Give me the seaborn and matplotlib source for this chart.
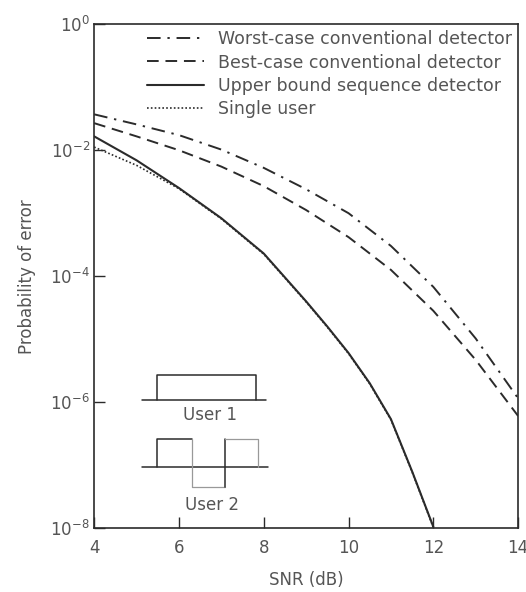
import numpy as np
import pandas as pd
import matplotlib
matplotlib.use("Agg")
import matplotlib.pyplot as plt
import seaborn as sns

# --------------------------------------------------------------
# Data (log10 of probability of error)
# --------------------------------------------------------------
snr_conv = [4, 5, 6, 7, 8, 9, 10, 11, 12, 13, 14]
worst_log = [-1.43, -1.59, -1.76, -1.99, -2.28, -2.62, -3.00, -3.52, -4.17, -4.99, -5.94]
best_log = [-1.57, -1.78, -2.00, -2.26, -2.57, -2.95, -3.38, -3.90, -4.55, -5.33, -6.22]

snr_seq = [4, 5, 6, 7, 8, 9, 9.5, 10, 10.5, 11, 11.5, 12]
upper_log = [-1.78, -2.16, -2.60, -3.08, -3.64, -4.40, -4.80, -5.22, -5.70, -6.27, -7.10, -7.98]
single_log = [-1.95, -2.24, -2.61, -3.09, -3.65, -4.41, -4.81, -5.23, -5.71, -6.28, -7.11, -7.99]

labels = ["Worst-case conventional detector",
          "Best-case conventional detector",
          "Upper bound sequence detector",
          "Single user"]

sns.set_theme(style="ticks")
plt.rcParams["font.family"] = ["DejaVu Sans"]

TXT = "#555555"
LN = "#2b2b2b"

fig = plt.figure(figsize=(5.26, 5.92), dpi=100)
ax = fig.add_axes([0.179, 0.108, 0.806, 0.851])

series = [
    (snr_conv, worst_log, labels[0], (0, (7, 3.5, 1.2, 3.5)), 1.4),
    (snr_conv, best_log, labels[1], (0, (6, 3.5)), 1.4),
    (snr_seq, upper_log, labels[2], "-", 1.5),
    (snr_seq, single_log, labels[3], (0, (1, 1.3)), 1.2),
]
for xs, ys, lab, ls, lw in series:
    d = pd.DataFrame({"snr": xs, "pe": 10.0 ** np.array(ys)})
    sns.lineplot(data=d, x="snr", y="pe", ax=ax, color=LN, linestyle=ls,
                 linewidth=lw, label=lab)

ax.set_yscale("log")
ax.set_xlim(4, 14)
ax.set_ylim(1e-8, 1)
ax.set_xticks([4, 6, 8, 10, 12, 14])
ax.set_yticks([1, 1e-2, 1e-4, 1e-6, 1e-8])
ax.minorticks_off()
ax.tick_params(direction="in", length=8, width=1, colors=LN, labelcolor=TXT,
               labelsize=12)
ax.tick_params(axis="x", pad=8)
ax.tick_params(axis="y", pad=3)
for s in ax.spines.values():
    s.set_color(LN)
    s.set_linewidth(1.2)

ax.set_xlabel("SNR (dB)", fontsize=12, color=TXT, labelpad=10)
ax.set_ylabel("Probability of error", fontsize=12, color=TXT, labelpad=10)

leg = ax.legend(loc="upper right", frameon=False, fontsize=12.5,
                handlelength=3.3, handletextpad=0.8, labelspacing=0.3,
                borderaxespad=0.15, borderpad=0.2)
for t in leg.get_texts():
    t.set_color(TXT)

# inset sketch of the user waveforms (axes fraction)
tr = ax.transAxes
ax.plot([0.113, 0.406], [0.254, 0.254], color=LN, lw=1.1, transform=tr)
ax.plot([0.149, 0.149, 0.382, 0.382], [0.254, 0.304, 0.304, 0.254],
        color=LN, lw=1.1, transform=tr)
ax.text(0.274, 0.224, "User 1", transform=tr, ha="center", va="center",
        fontsize=12, color=TXT)

ax.plot([0.113, 0.410], [0.121, 0.121], color=LN, lw=1.1, transform=tr)
ax.plot([0.149, 0.149, 0.231], [0.121, 0.177, 0.177], color=LN, lw=1.1, transform=tr)
ax.plot([0.231, 0.231, 0.309], [0.177, 0.081, 0.081], color="#999999", lw=0.9, transform=tr)
ax.plot([0.309, 0.309], [0.081, 0.177], color=LN, lw=1.1, transform=tr)
ax.plot([0.309, 0.387, 0.387], [0.177, 0.177, 0.121], color="#999999", lw=0.9, transform=tr)
ax.text(0.278, 0.046, "User 2", transform=tr, ha="center", va="center",
        fontsize=12, color=TXT)

fig.savefig("out.png", dpi=100)
